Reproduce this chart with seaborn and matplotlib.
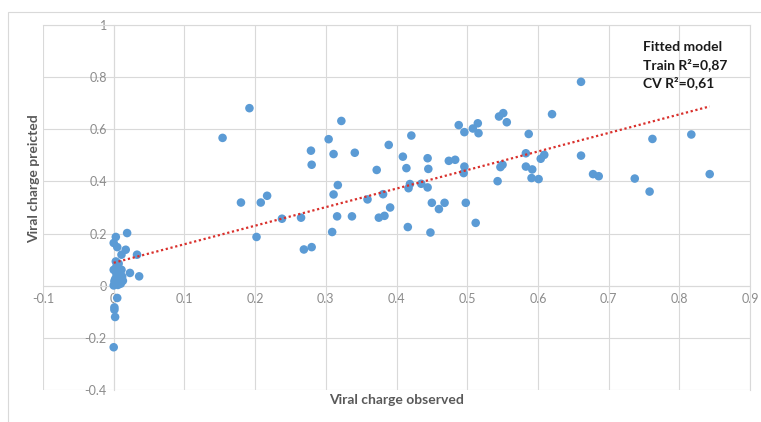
import matplotlib
matplotlib.use("Agg")
from matplotlib import pyplot as plt
from matplotlib.patches import Rectangle
from matplotlib.ticker import FuncFormatter, MultipleLocator
import pandas as pd
import seaborn as sns

# observed vs predicted viral charge
obs_x = [0.192, 0.322, 0.154, 0.304, 0.279, 0.311, 0.341, 0.280, 0.372, 0.317,
         0.311, 0.180, 0.208, 0.217, 0.359, 0.238, 0.265, 0.316, 0.337, 0.375,
         0.202, 0.309, 0.269, 0.280, 0.389, 0.421, 0.409, 0.414, 0.381, 0.391,
         0.383, 0.416, 0.448, 0.419, 0.417, 0.435, 0.444, 0.444, 0.445, 0.450,
         0.460, 0.468, 0.474, 0.483, 0.488, 0.496, 0.496, 0.495, 0.498, 0.512,
         0.508, 0.515, 0.516, 0.545, 0.551, 0.556, 0.543, 0.547, 0.550, 0.587,
         0.583, 0.583, 0.592, 0.591, 0.601, 0.604, 0.609, 0.620, 0.661, 0.661,
         0.678, 0.686, 0.737, 0.758, 0.762, 0.817, 0.843,
         0.003, 0.019, 0.000, 0.005, 0.017, 0.011, 0.033, 0.003, 0.000, 0.006,
         0.011, 0.023, 0.036, 0.004, 0.008, 0.013, 0.001, 0.000, 0.005, 0.001,
         0.001, 0.002, 0.000, 0.004, 0.009, 0.002, 0.010, 0.006, 0.003, 0.012,
         0.007]
pred_y = [0.681, 0.632, 0.567, 0.562, 0.518, 0.505, 0.510, 0.464, 0.444, 0.386,
          0.350, 0.319, 0.319, 0.345, 0.331, 0.257, 0.261, 0.266, 0.266, 0.261,
          0.187, 0.206, 0.139, 0.148, 0.540, 0.576, 0.495, 0.451, 0.351, 0.300,
          0.268, 0.225, 0.204, 0.390, 0.374, 0.391, 0.377, 0.489, 0.448, 0.318,
          0.294, 0.318, 0.479, 0.483, 0.616, 0.589, 0.457, 0.432, 0.318, 0.241,
          0.603, 0.623, 0.585, 0.649, 0.662, 0.627, 0.401, 0.455, 0.464, 0.582,
          0.508, 0.457, 0.446, 0.413, 0.409, 0.487, 0.502, 0.658, 0.782, 0.499,
          0.428, 0.420, 0.411, 0.361, 0.563, 0.580, 0.428,
          0.187, 0.202, 0.164, 0.148, 0.138, 0.119, 0.119, 0.093, 0.061, 0.068,
          0.061, 0.049, 0.036, 0.042, 0.030, 0.019, 0.017, 0.001, -0.047, -0.083,
          -0.092, -0.120, -0.236, 0.075, 0.052, 0.025, 0.008, 0.003, 0.055, 0.035,
          0.085]
notes = ["Fitted model", "Train R²=0,87", "CV R²=0,61"]

df = pd.DataFrame({"observed": obs_x, "predicted": pred_y})

sns.set_style("whitegrid", {"grid.color": "#D9D9D9", "axes.edgecolor": "#D9D9D9"})
plt.rcParams["font.family"] = ["Lato", "DejaVu Sans"]
plt.rcParams["axes.unicode_minus"] = False

fig = plt.figure(figsize=(7.61, 4.22), dpi=100)
ax = fig.add_axes([43 / 761, 32 / 422, 707 / 761, 365 / 422])

sns.scatterplot(data=df, x="observed", y="predicted", ax=ax, color="#5B9BD5",
                s=38, edgecolor="none", zorder=3)
# linear trend line, dotted red like the excel one
sns.regplot(data=df, x="observed", y="predicted", ax=ax, scatter=False, ci=None,
            line_kws={"color": "#D9302C", "lw": 1.6, "linestyle": (0, (1, 1.2)), "zorder": 4})

ax.set_xlim(-0.1, 0.9)
ax.set_ylim(-0.4, 1.0)
ax.xaxis.set_major_locator(MultipleLocator(0.1))
ax.yaxis.set_major_locator(MultipleLocator(0.2))
fmt = FuncFormatter(lambda v, p: "{:g}".format(round(v, 2)))
ax.xaxis.set_major_formatter(fmt)
ax.yaxis.set_major_formatter(fmt)

# axes cross at the origin
ax.spines["left"].set_position(("data", 0))
ax.spines["bottom"].set_position(("data", 0))
for s in ax.spines.values():
    s.set_color("#D9D9D9")
    s.set_linewidth(0.8)
ax.tick_params(length=0, labelsize=9, labelcolor="#8C8C8C", pad=5)
ax.grid(True, color="#D9D9D9", lw=0.8)
ax.set_axisbelow(True)

ax.set_xlabel("Viral charge observed", fontsize=10, fontweight="bold", color="#595959")
ax.set_ylabel("Viral charge preicted", fontsize=10, fontweight="bold", color="#595959")
ax.xaxis.set_label_coords(0.5, -0.012)
ax.yaxis.set_label_coords(-0.004, 0.578)

ax.text(0.849, 0.955, "\n".join(notes), transform=ax.transAxes, va="top", ha="left",
        fontsize=10, fontweight="bold", color="#1a1a1a", linespacing=1.45)

# outer chart border
fig.patches.append(Rectangle((8 / 761, -0.05), 1.0, 0.05 + 410 / 422, transform=fig.transFigure,
                             fill=False, edgecolor="#D9D9D9", lw=0.8))

fig.savefig("out.png", dpi=100)
